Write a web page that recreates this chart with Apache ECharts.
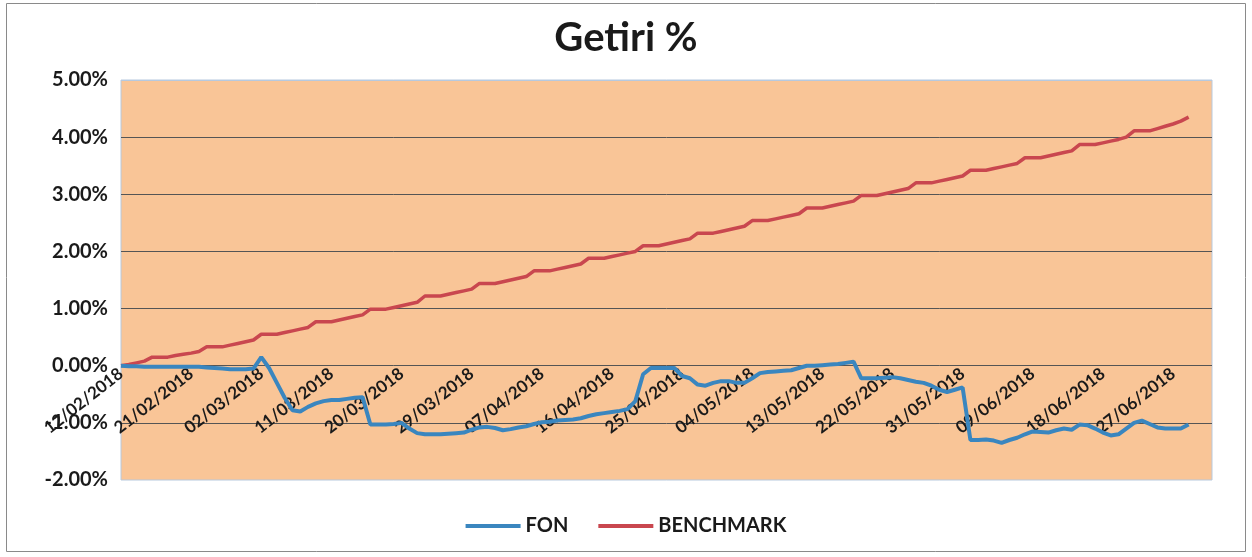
<!DOCTYPE html>
<html>
<head>
<meta charset="utf-8">
<script src="https://cdn.jsdelivr.net/npm/echarts@6/dist/echarts.min.js"></script>
<style>
html,body{margin:0;padding:0;background:#fff;}
#c{width:1252px;height:557px;}
</style>
</head>
<body>
<div id="c"></div>
<script>
// ---- data ----
var TITLE = 'Getiri %';
var START_DATE = [2018, 1, 12];   // 12/02/2018 (month 0-based)
var AXIS_DAYS = 141;              // axis runs 12/02/2018 .. 02/07/2018
var TICK_LABELS = ['12/02/2018','21/02/2018','02/03/2018','11/03/2018','20/03/2018','29/03/2018',
  '07/04/2018','16/04/2018','25/04/2018','04/05/2018','13/05/2018','22/05/2018','31/05/2018',
  '09/06/2018','18/06/2018','27/06/2018'];
var Y_TICKS = [-2, -1, 0, 1, 2, 3, 4, 5];

// FON (%), one value per calendar day from 12/02/2018 to 29/06/2018
var FON = [
  0.00,-0.01,-0.01,-0.02,-0.02,-0.02,-0.02,
  -0.02,-0.02,-0.02,-0.02,-0.03,-0.04,-0.05,
  -0.06,-0.06,-0.06,-0.05,0.15,-0.04,-0.30,
  -0.56,-0.78,-0.80,-0.72,-0.66,-0.62,-0.60,
  -0.60,-0.58,-0.56,-0.55,-1.03,-1.03,-1.03,
  -1.02,-1.00,-1.10,-1.18,-1.20,-1.20,-1.20,
  -1.19,-1.18,-1.17,-1.12,-1.08,-1.07,-1.09,
  -1.13,-1.11,-1.08,-1.06,-1.02,-0.99,-0.98,
  -0.96,-0.95,-0.94,-0.92,-0.88,-0.85,-0.83,
  -0.81,-0.79,-0.76,-0.62,-0.15,-0.04,-0.04,
  -0.04,-0.04,-0.18,-0.22,-0.33,-0.35,-0.30,
  -0.27,-0.27,-0.30,-0.30,-0.22,-0.13,-0.11,
  -0.10,-0.09,-0.08,-0.04,0.00,0.00,0.01,
  0.02,0.03,0.05,0.07,-0.22,-0.22,-0.22,
  -0.21,-0.20,-0.22,-0.25,-0.28,-0.30,-0.35,
  -0.42,-0.46,-0.42,-0.38,-1.30,-1.30,-1.29,
  -1.31,-1.35,-1.30,-1.26,-1.20,-1.15,-1.16,
  -1.17,-1.13,-1.10,-1.12,-1.03,-1.04,-1.10,
  -1.17,-1.22,-1.20,-1.10,-1.00,-0.96,-1.02,
  -1.08,-1.10,-1.10,-1.10,-1.03
];

// BENCHMARK (%), one value per calendar day from 12/02/2018 to 29/06/2018
var BENCHMARK = [
  0.00,0.02,0.05,0.08,0.15,0.15,0.15,
  0.18,0.20,0.22,0.25,0.33,0.33,0.33,
  0.36,0.39,0.42,0.45,0.55,0.55,0.55,
  0.58,0.61,0.64,0.67,0.77,0.77,0.77,
  0.80,0.83,0.86,0.89,0.99,0.99,0.99,
  1.02,1.05,1.08,1.11,1.22,1.22,1.22,
  1.25,1.28,1.31,1.34,1.44,1.44,1.44,
  1.47,1.50,1.53,1.56,1.66,1.66,1.66,
  1.69,1.72,1.75,1.78,1.88,1.88,1.88,
  1.91,1.94,1.97,2.00,2.10,2.10,2.10,
  2.13,2.16,2.19,2.22,2.32,2.32,2.32,
  2.35,2.38,2.41,2.44,2.54,2.54,2.54,
  2.57,2.60,2.63,2.66,2.76,2.76,2.76,
  2.79,2.82,2.85,2.88,2.98,2.98,2.98,
  3.01,3.04,3.07,3.10,3.20,3.20,3.20,
  3.23,3.26,3.29,3.32,3.42,3.42,3.42,
  3.45,3.48,3.51,3.54,3.64,3.64,3.64,
  3.67,3.70,3.73,3.76,3.87,3.87,3.87,
  3.90,3.93,3.96,4.00,4.11,4.11,4.11,
  4.15,4.19,4.23,4.28,4.35
];

// ---- build categories (calendar days) ----
function pad(n){return (n<10?'0':'')+n;}
var categories = [];
for (var i = 0; i < AXIS_DAYS; i++) {
  var d = new Date(START_DATE[0], START_DATE[1], START_DATE[2] + i);
  categories.push(pad(d.getDate()) + '/' + pad(d.getMonth()+1) + '/' + d.getFullYear());
}

var GRID = {left: 121, right: 40, top: 80, bottom: 77};
var plotH = 557 - GRID.top - GRID.bottom;
var yMin = Y_TICKS[0], yMax = Y_TICKS[Y_TICKS.length-1];
// Excel puts the category axis (and its labels) on the 0% line
var zeroOffset = -plotH * (0 - yMin) / (yMax - yMin);

var FONT = 'Lato, "Open Sans", "DejaVu Sans", sans-serif';
var chart = echarts.init(document.getElementById('c'), null, {renderer:'canvas'});
chart.setOption({
  animation: false,
  backgroundColor: '#ffffff',
  title: {
    text: TITLE, left: 'center', top: 13,
    textStyle: {fontFamily: FONT, fontSize: 40, fontWeight: 'bold', color: '#1a1a1a'}
  },
  legend: {
    top: 511, left: 'center', itemGap: 30,
    icon: 'rect', itemWidth: 55, itemHeight: 4,
    textStyle: {fontFamily: FONT, fontSize: 20, fontWeight: 'bold', color: '#1a1a1a'},
    data: ['FON', 'BENCHMARK']
  },
  graphic: [{
    type: 'rect', left: 4, top: 1, silent: true,
    shape: {width: 1239, height: 548},
    style: {fill: 'none', stroke: '#8a8a8a', lineWidth: 1}
  }],
  grid: {
    left: GRID.left, right: GRID.right, top: GRID.top, bottom: GRID.bottom,
    show: true, backgroundColor: '#F9C597', borderColor: '#B7C9DE', borderWidth: 1
  },
  xAxis: {
    type: 'category', data: categories, boundaryGap: false,
    offset: zeroOffset,
    axisLine: {show: false, onZero: false},
    axisTick: {show: false},
    splitLine: {show: false},
    axisLabel: {
      interval: 8, rotate: 38, margin: 6,
      fontFamily: FONT, fontSize: 17, fontWeight: 'bold', color: '#1a1a1a',
      formatter: function (v) { return TICK_LABELS.indexOf(v) >= 0 ? v : ''; }
    }
  },
  yAxis: {
    type: 'value', min: yMin, max: yMax, interval: 1,
    axisLine: {show: false}, axisTick: {show: false},
    splitLine: {show: true, lineStyle: {color: ['transparent','#555','#555','#555','#555','#555','#555','#B7C9DE'], width: 1}},
    axisLabel: {
      margin: 13, fontFamily: FONT, fontSize: 20, fontWeight: 'bold', color: '#1a1a1a',
      formatter: function (v) { return v.toFixed(2) + '%'; }
    }
  },
  series: [
    {name: 'FON', type: 'line', data: FON, showSymbol: false, z: 3,
     itemStyle: {color: '#3A86BF'}, lineStyle: {color: '#3A86BF', width: 4}},
    {name: 'BENCHMARK', type: 'line', data: BENCHMARK, showSymbol: false, z: 2,
     itemStyle: {color: '#C9474F'}, lineStyle: {color: '#C9474F', width: 3.5}}
  ]
});
</script>
</body>
</html>
